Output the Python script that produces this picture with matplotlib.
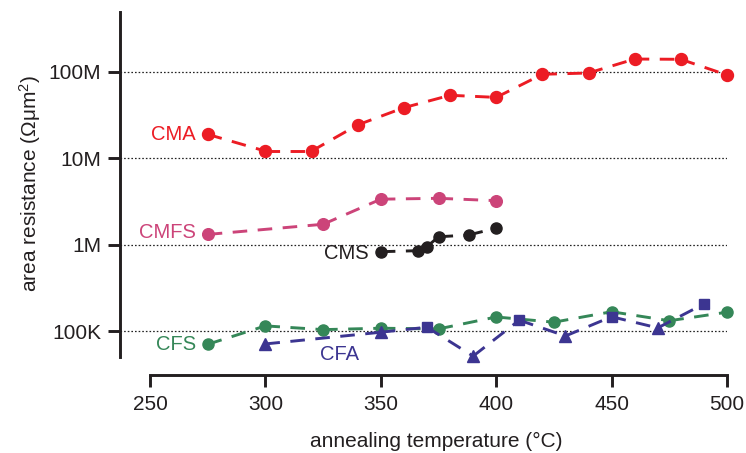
import matplotlib
matplotlib.use("Agg")
import matplotlib.pyplot as plt
from matplotlib.ticker import FixedLocator, FixedFormatter, NullLocator

plt.rcParams['font.family'] = ['Liberation Sans', 'DejaVu Sans']
plt.rcParams['mathtext.fontset'] = 'custom'
plt.rcParams['mathtext.rm'] = 'Liberation Sans'
plt.rcParams['mathtext.it'] = 'Liberation Sans'

# --- data: area resistance (Ohm um^2) vs annealing temperature (deg C) ---
cma_temp = [275, 300, 320, 340, 360, 380, 400, 420, 440, 460, 480, 500]
cma_res = [1.89e7, 1.21e7, 1.21e7, 2.43e7, 3.84e7, 5.34e7, 5.05e7,
           9.33e7, 9.66e7, 1.40e8, 1.39e8, 9.16e7]

cmfs_temp = [275, 325, 350, 375, 400]
cmfs_res = [1.32e6, 1.73e6, 3.37e6, 3.45e6, 3.24e6]

cms_temp = [350, 366, 370, 375, 388, 400]
cms_res = [8.34e5, 8.57e5, 9.53e5, 1.24e6, 1.30e6, 1.56e6]

cfs_temp = [275, 300, 325, 350, 375, 400, 425, 450, 475, 500]
cfs_res = [7.11e4, 1.16e5, 1.05e5, 1.09e5, 1.07e5, 1.47e5, 1.28e5,
           1.69e5, 1.33e5, 1.67e5]

cfa_temp = [300, 350, 370, 390, 410, 430, 450, 470, 490]
cfa_res = [7.18e4, 9.8e4, 1.12e5, 5.19e4, 1.35e5, 8.87e4, 1.48e5, 1.10e5, 2.08e5]
cfa_marker = ['^', '^', 's', '^', 's', '^', 's', '^', 's']

y_ticks = [1e5, 1e6, 1e7, 1e8]
y_tick_labels = ['100K', '1M', '10M', '100M']
x_ticks = [250, 300, 350, 400, 450, 500]

RED = '#ec1c24'
PINK = '#cc4479'
BLACK = '#231f20'
GREEN = '#358758'
BLUE = '#3c3591'

fig = plt.figure(figsize=(7.46, 4.53), dpi=100)
ax = fig.add_axes([120 / 746, 1 - 356.5 / 453, 607 / 746, 344.5 / 453])
ax.set_yscale('log')
ax.set_xlim(237.0, 500)
ax.set_ylim(5.14e4, 4.89e8)

# dotted reference lines at each decade
for yv in y_ticks:
    ax.axhline(yv, color='#222222', lw=0.9, ls=(0, (1.3, 1.6)), zorder=1)


def dashed_series(xs, ys, color, z):
    # each segment restarts its dash pattern at the starting point
    for i in range(len(xs) - 1):
        ax.plot(xs[i:i + 2], ys[i:i + 2], color=color, lw=2.1,
                dashes=(5, 3.6), dash_capstyle='butt', solid_capstyle='butt',
                clip_on=False, zorder=z)


dashed_series(cma_temp, cma_res, RED, 3)
ax.plot(cma_temp, cma_res, ls='none', marker='o', ms=8.6, color=RED,
        clip_on=False, zorder=4)

dashed_series(cmfs_temp, cmfs_res, PINK, 3)
ax.plot(cmfs_temp, cmfs_res, ls='none', marker='o', ms=8.4, color=PINK,
        clip_on=False, zorder=4)

dashed_series(cms_temp, cms_res, BLACK, 3)
ax.plot(cms_temp, cms_res, ls='none', marker='o', ms=8.0, color=BLACK,
        clip_on=False, zorder=4)

dashed_series(cfs_temp, cfs_res, GREEN, 3)
ax.plot(cfs_temp, cfs_res, ls='none', marker='o', ms=8.0, color=GREEN,
        clip_on=False, zorder=4)

dashed_series(cfa_temp, cfa_res, BLUE, 5)
for mk in ('^', 's'):
    xs = [t for t, m in zip(cfa_temp, cfa_marker) if m == mk]
    ys = [r for r, m in zip(cfa_res, cfa_marker) if m == mk]
    ax.plot(xs, ys, ls='none', marker=mk, ms=9.2 if mk == '^' else 7.6,
            color=BLUE, clip_on=False, zorder=6)

# series labels
lab_kw = dict(fontsize=14.5, textcoords='offset points', ha='right', va='center')
ax.annotate('CMA', (cma_temp[0], cma_res[0]), xytext=(-8.5, 0), color=RED, **lab_kw)
ax.annotate('CMFS', (cmfs_temp[0], cmfs_res[0]), xytext=(-8.5, 1.5), color=PINK, **lab_kw)
ax.annotate('CMS', (cms_temp[0], cms_res[0]), xytext=(-8.5, -1.2), color=BLACK, **lab_kw)
ax.annotate('CFS', (cfs_temp[0], cfs_res[0]), xytext=(-8.5, 0), color=GREEN, **lab_kw)
ax.text(332, 5.36e4, 'CFA', color=BLUE, fontsize=14.5, ha='center', va='center')

# axes styling
for side in ('top', 'right'):
    ax.spines[side].set_visible(False)
for side in ('left', 'bottom'):
    ax.spines[side].set_linewidth(2.1)
    ax.spines[side].set_color(BLACK)
ax.spines['bottom'].set_position(('outward', 18.8 * 72 / 100))
ax.spines['bottom'].set_bounds(250, 500)

ax.yaxis.set_major_locator(FixedLocator(y_ticks))
ax.yaxis.set_major_formatter(FixedFormatter(y_tick_labels))
ax.yaxis.set_minor_locator(NullLocator())
ax.set_xticks(x_ticks)
ax.set_xticklabels([str(t) for t in x_ticks])
ax.tick_params(axis='both', which='major', length=8.6, width=2.1,
               color=BLACK, labelsize=15, labelcolor=BLACK, direction='out')
ax.tick_params(axis='x', pad=5.5)
ax.tick_params(axis='y', pad=4.8)

fig.text(30 / 746, 1 - 184 / 453, 'area resistance (Ωμm$^{2}$)', rotation=90,
         ha='center', va='center', fontsize=15, color=BLACK)
fig.text(436 / 746, 6 / 453, 'annealing temperature (°C)', ha='center',
         va='baseline', fontsize=15, color=BLACK)

fig.savefig('out.png', dpi=100)
